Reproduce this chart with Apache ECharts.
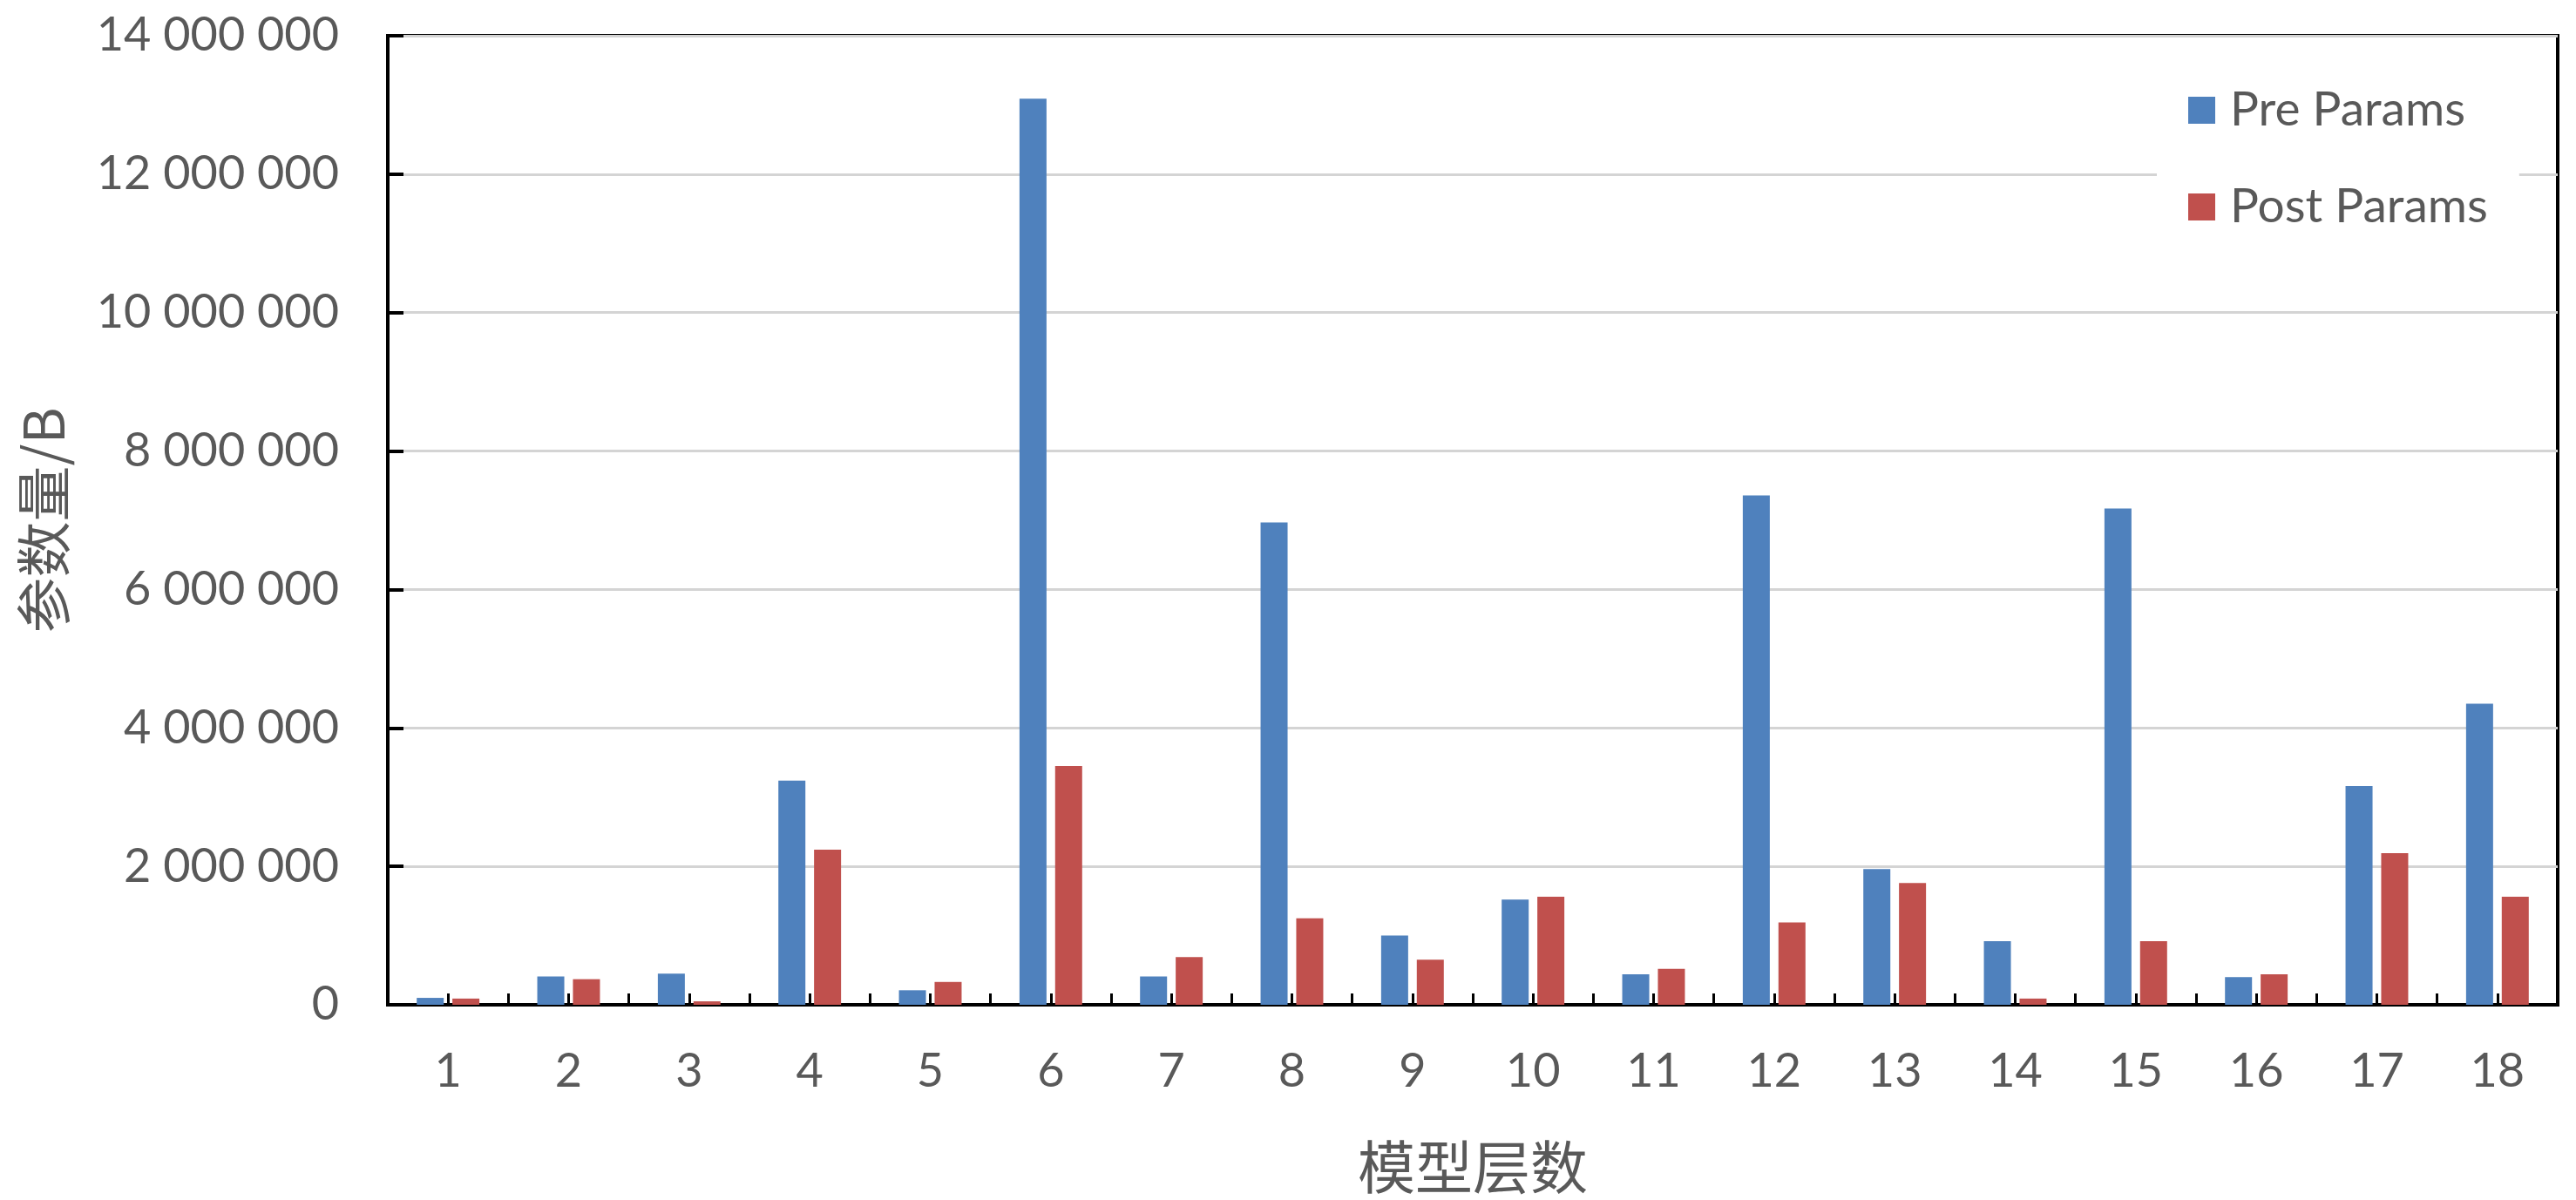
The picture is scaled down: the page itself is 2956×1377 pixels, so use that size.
<!DOCTYPE html>
<html>
<head>
<meta charset="utf-8">
<script src="https://cdn.jsdelivr.net/npm/echarts@6/dist/echarts.min.js"></script>
<style>
html,body{margin:0;padding:0;background:#fff;}
#c{width:2956px;height:1377px;}
</style>
</head>
<body>
<div id="c"></div>
<script>
const categories = ['1','2','3','4','5','6','7','8','9','10','11','12','13','14','15','16','17','18'];
const prePams = [100000, 410000, 450000, 3240000, 210000, 13090000, 410000, 6970000, 1000000, 1520000, 440000, 7360000, 1960000, 920000, 7170000, 400000, 3160000, 4350000];
const postParams = [90000, 370000, 50000, 2240000, 330000, 3450000, 690000, 1250000, 650000, 1560000, 520000, 1190000, 1760000, 90000, 920000, 440000, 2190000, 1560000];
const seriesNames = ['Pre Params', 'Post Params'];
const xTitle = '模型层数';
const yTitle = '参数量/B';

const chart = echarts.init(document.getElementById('c'), null, {renderer: 'canvas'});
const fmt = v => String(v).replace(/\B(?=(\d{3})+(?!\d))/g, ' ');
const textColor = '#595959';

chart.setOption({
  animation: false,
  backgroundColor: '#ffffff',
  grid: {
    left: 445, right: 21, top: 41, bottom: 221,
    show: true, borderColor: '#000', borderWidth: 4, backgroundColor: 'transparent'
  },
  legend: {
    orient: 'vertical',
    left: 2475, top: 80,
    padding: [19, 36, 19, 36],
    backgroundColor: '#ffffff',
    itemWidth: 31, itemHeight: 31, itemGap: 56,
    icon: 'rect',
    textStyle: {fontFamily: 'Lato', fontSize: 55, color: textColor, padding: [0, 0, 0, 12]},
    data: seriesNames
  },
  xAxis: [{
    type: 'category',
    data: categories,
    position: 'bottom',
    name: xTitle,
    nameLocation: 'middle',
    nameGap: 153,
    nameTextStyle: {fontFamily: 'Noto Sans CJK SC', fontSize: 66, color: textColor},
    axisLine: {show: true, lineStyle: {color: '#000', width: 4}},
    axisTick: {show: true, inside: true, length: 13, lineStyle: {color: '#000', width: 3}},
    axisLabel: {fontFamily: 'Lato', fontSize: 54, color: textColor, margin: 50},
    splitLine: {show: false}
  }, {
    type: 'category',
    data: categories,
    position: 'bottom',
    axisLine: {show: false},
    axisTick: {show: true, inside: true, alignWithLabel: true, length: 13, lineStyle: {color: '#000', width: 3}},
    axisLabel: {show: false},
    splitLine: {show: false},
    z: 5
  }],
  yAxis: {
    type: 'value',
    min: 0, max: 14000000, interval: 2000000,
    name: yTitle,
    nameLocation: 'middle',
    nameGap: 363,
    nameTextStyle: {fontFamily: 'Noto Sans CJK SC', fontSize: 64, color: textColor},
    axisLine: {show: true, lineStyle: {color: '#000', width: 4}},
    axisTick: {show: true, inside: true, length: 18, lineStyle: {color: '#000', width: 4}},
    axisLabel: {fontFamily: 'Lato', fontSize: 54, color: textColor, margin: 56, formatter: fmt},
    splitLine: {show: true, lineStyle: {color: '#D4D4D4', width: 3}}
  },
  series: [{
    name: seriesNames[0],
    type: 'bar',
    xAxisIndex: 0,
    data: prePams,
    barWidth: 31,
    barGap: '32%',
    itemStyle: {color: '#4F81BD'}
  }, {
    name: seriesNames[1],
    type: 'bar',
    xAxisIndex: 0,
    data: postParams,
    barWidth: 31,
    barGap: '32%',
    itemStyle: {color: '#C0504D'}
  }]
});
</script>
</body>
</html>
